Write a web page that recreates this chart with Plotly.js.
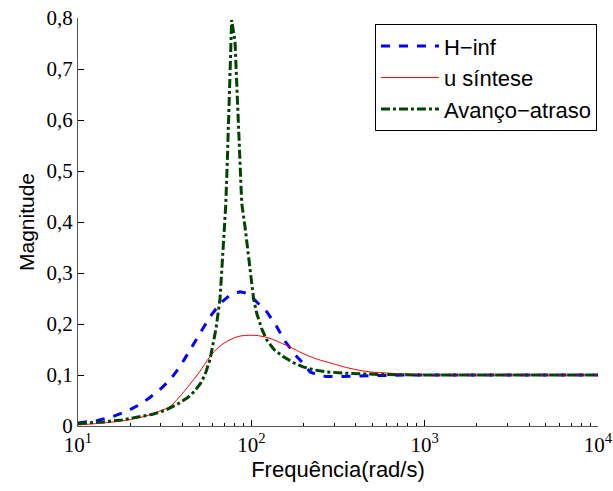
<!DOCTYPE html>
<html>
<head>
<meta charset="utf-8">
<script src="https://cdn.plot.ly/plotly-3.0.1.min.js"></script>
<style>html,body{margin:0;padding:0;background:#fff;}#chart{width:613px;height:491px;}</style>
</head>
<body>
<div id="chart"></div>
<script>
// H-inf
const hinfFreq = [10, 13, 16, 19.4, 23, 26, 30, 33.9, 39, 44.3, 50, 57.7, 66, 75.3, 86, 95, 102.7, 112, 122.7, 140, 155, 170, 182.7, 199, 218, 245, 272, 320, 400, 463, 750, 1000, 10000];
const hinfMag  = [0.006, 0.011, 0.019, 0.03, 0.043, 0.056, 0.073, 0.09, 0.118, 0.149, 0.18, 0.214, 0.24, 0.257, 0.263, 0.26, 0.25, 0.238, 0.224, 0.195, 0.168, 0.15, 0.136, 0.123, 0.106, 0.099, 0.097, 0.097, 0.098, 0.099, 0.1, 0.1, 0.1];
// u sintese
const muFreq = [10, 13, 16, 19.4, 23, 26, 30, 33.9, 38, 44.3, 50, 57.7, 65, 75.3, 85, 98, 110, 128, 150, 167, 199, 240, 284, 311, 371, 484, 600, 750, 1000, 2000, 10000];
const muMag  = [0.002, 0.005, 0.008, 0.012, 0.017, 0.022, 0.03, 0.038, 0.055, 0.082, 0.105, 0.136, 0.155, 0.169, 0.176, 0.178, 0.177, 0.172, 0.162, 0.155, 0.142, 0.131, 0.124, 0.12, 0.113, 0.106, 0.104, 0.102, 0.101, 0.1, 0.1];
// Avanco-atraso
const leadFreq = [10, 14, 18, 22, 27, 32, 38, 43, 47, 51, 54, 57.7, 60.3, 62.5, 66, 68.9, 71.1, 72.7, 74.3, 75.6, 77, 80.5, 82.7, 84.6, 86.8, 88, 92, 95, 98, 103, 107.4, 115, 122.7, 135, 153, 175, 199, 230, 272, 371, 553, 1000, 10000];
const leadMag  = [0.005, 0.008, 0.012, 0.017, 0.023, 0.031, 0.044, 0.056, 0.068, 0.084, 0.1, 0.13, 0.16, 0.19, 0.25, 0.358, 0.43, 0.52, 0.613, 0.705, 0.796, 0.754, 0.662, 0.574, 0.482, 0.437, 0.39, 0.35, 0.31, 0.25, 0.221, 0.19, 0.169, 0.15, 0.136, 0.124, 0.116, 0.11, 0.106, 0.103, 0.101, 0.1, 0.1];

const seriesNames = ['H\u2212inf', 'u síntese', 'Avanço\u2212atraso'];
const yTickVals = [0, 0.1, 0.2, 0.3, 0.4, 0.5, 0.6, 0.7, 0.8];
const yTickText = ['0', '0,1', '0,2', '0,3', '0,4', '0,5', '0,6', '0,7', '0,8'];
const xTickVals = [10, 100, 1000, 10000];
const xTickText = ['10<sup>1</sup>', '10<sup>2</sup>', '10<sup>3</sup>', '10<sup>4</sup>'];

const minorVals = [];
for (let d = 10; d < 10000; d *= 10) for (let k = 2; k <= 9; k++) minorVals.push(k * d);

const serifFont = 'Liberation Serif';
const sansFont = 'Liberation Sans';

const traces = [
  {x: hinfFreq, y: hinfMag, name: seriesNames[0], type: 'scatter', mode: 'lines',
   line: {color: '#0000ff', width: 3, dash: 'dash'}},
  {x: muFreq, y: muMag, name: seriesNames[1], type: 'scatter', mode: 'lines',
   line: {color: '#ff0000', width: 1, shape: 'spline'}},
  {x: leadFreq, y: leadMag, name: seriesNames[2], type: 'scatter', mode: 'lines',
   line: {color: '#004400', width: 3, dash: 'dashdot'}}
];

const layout = {
  width: 613, height: 491,
  margin: {l: 78, r: 15, t: 18, b: 65},
  paper_bgcolor: '#fff', plot_bgcolor: '#fff',
  font: {family: sansFont},
  showlegend: true,
  legend: {x: 0.998, y: 0.985, xanchor: 'right', yanchor: 'top',
    bordercolor: '#000', borderwidth: 1, bgcolor: '#fff',
    itemwidth: 58,
    font: {family: sansFont, size: 22, color: '#000'},
    tracegroupgap: 0},
  xaxis: {type: 'log', range: [1, 4], showgrid: false, zeroline: false,
    showline: true, linecolor: '#555', linewidth: 1, mirror: false,
    ticks: 'inside', ticklen: 6, tickcolor: '#000',
    tickvals: xTickVals, ticktext: xTickText,
    ticklabeloverflow: 'allow',
    tickfont: {family: serifFont, size: 21, color: '#000'},
    minor: {tickvals: minorVals, ticks: 'inside', ticklen: 3, tickcolor: '#000', showgrid: false},
    title: {text: 'Frequência(rad/s)', standoff: 2,
      font: {family: sansFont, size: 22, color: '#000'}}},
  yaxis: {range: [0, 0.8], showgrid: false, zeroline: false,
    showline: true, linecolor: '#555', linewidth: 1, mirror: false,
    ticks: 'inside', ticklen: 6, tickcolor: '#000',
    tickvals: yTickVals, ticktext: yTickText,
    ticklabeloverflow: 'allow',
    tickfont: {family: serifFont, size: 21, color: '#000'},
    title: {text: 'Magnitude', standoff: 6,
      font: {family: sansFont, size: 21, color: '#000'}}}
};

Plotly.newPlot('chart', traces, layout, {displayModeBar: false, staticPlot: true});
</script>
</body>
</html>
